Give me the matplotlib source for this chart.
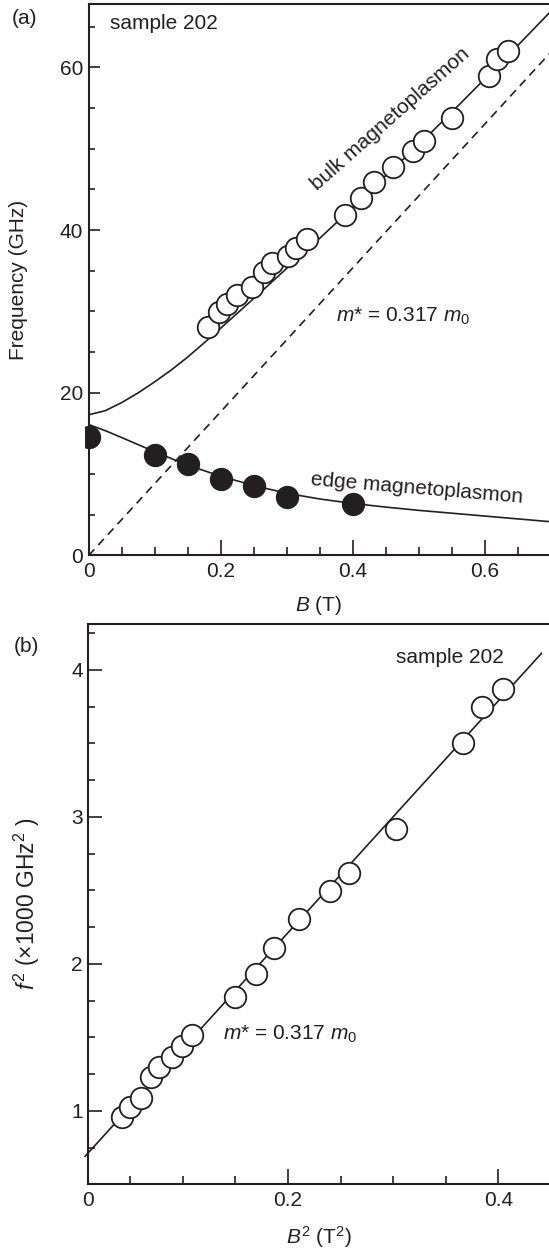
import matplotlib
matplotlib.use("Agg")
import matplotlib.pyplot as plt
from matplotlib.patches import Rectangle
from matplotlib.ticker import MultipleLocator, FixedLocator, FixedFormatter

plt.rcParams['font.family'] = ['Liberation Sans', 'DejaVu Sans']
plt.rcParams['font.size'] = 15
plt.rcParams['mathtext.fontset'] = 'custom'
plt.rcParams['mathtext.rm'] = 'Liberation Sans'
plt.rcParams['mathtext.it'] = 'Liberation Sans:italic'

INK = '#231f20'

# (a) measured resonances
B_bulk = [0.181, 0.197, 0.209, 0.225, 0.247, 0.266, 0.278, 0.302, 0.314, 0.330,
          0.388, 0.412, 0.432, 0.461, 0.492, 0.508, 0.550, 0.606, 0.619, 0.635]
f_bulk = [28.1, 29.9, 30.9, 32.0, 33.0, 34.9, 35.9, 36.8, 37.8, 38.9,
          41.9, 43.9, 45.9, 47.7, 49.7, 50.9, 53.8, 59.0, 61.0, 62.0]
B_edge = [0.0, 0.1, 0.15, 0.2, 0.25, 0.3, 0.4]
f_edge = [14.6, 12.4, 11.25, 9.4, 8.6, 7.2, 6.3]

# (a) fitted curves
B_bulk_fit = [0, 0.025, 0.05, 0.075, 0.1, 0.125, 0.15, 0.175, 0.2, 0.25, 0.3,
              0.35, 0.4, 0.45, 0.5, 0.55, 0.6, 0.65, 0.7]
f_bulk_fit = [17.3, 17.8, 18.8, 20.0, 21.35, 22.8, 24.4, 26.15, 27.95, 31.6, 35.3,
              39.0, 42.8, 46.7, 50.5, 54.5, 58.6, 62.7, 66.9]
B_edge_fit = [0, 0.025, 0.05, 0.1, 0.15, 0.2, 0.25, 0.3, 0.35, 0.4, 0.45, 0.5,
              0.55, 0.6, 0.65, 0.7]
f_edge_fit = [16.1, 15.35, 14.5, 12.75, 11.1, 9.75, 8.6, 7.65, 6.95, 6.4, 5.95,
              5.55, 5.2, 4.85, 4.5, 4.15]
B_cyc = [0, 0.698]
f_cyc = [0, 61.7]

# (b) f^2 vs B^2
B2 = [0.0426, 0.0500, 0.0600, 0.0700, 0.0776, 0.0900, 0.0993, 0.1086, 0.1492,
      0.1699, 0.1865, 0.2108, 0.2398, 0.2581, 0.3024, 0.3663, 0.3846, 0.4047]
F2 = [0.961, 1.025, 1.086, 1.229, 1.297, 1.369, 1.442, 1.517, 1.777,
      1.932, 2.111, 2.304, 2.499, 2.617, 2.916, 3.501, 3.746, 3.869]
B2_fit = [0.007, 0.441]
F2_fit = [0.69, 4.113]

W, H = 549, 1253
fig = plt.figure(figsize=(W / 100, H / 100), dpi=100)


def px_axes(l, t, r, b):
    return fig.add_axes([l / W, 1 - b / H, (r - l) / W, (b - t) / H])


def style(ax, xmaj, xmin, ymaj, ymin):
    for s in ['left', 'bottom', 'top']:
        ax.spines[s].set_linewidth(1.5)
        ax.spines[s].set_color(INK)
    ax.spines['right'].set_visible(False)
    ax.tick_params(which='both', direction='in', width=1.2, color=INK,
                   labelcolor=INK, top=False, right=False)
    ax.tick_params(axis='x', which='major', length=xmaj, pad=5)
    ax.tick_params(axis='x', which='minor', length=xmin)
    ax.tick_params(axis='y', which='major', length=ymaj, pad=4)
    ax.tick_params(axis='y', which='minor', length=ymin)


mk = dict(marker='o', ms=15.5, mew=1.3, mec=INK, ls='none', zorder=5)

# ---------- panel (a) ----------
ax1 = px_axes(88.7, 4, 549, 555.5)
ax1.set_xlim(0, 0.6973)
ax1.set_ylim(0, 67.8)
style(ax1, 11, 5.5, 8, 4.3)
ax1.xaxis.set_major_locator(FixedLocator([0, 0.2, 0.4, 0.6]))
ax1.xaxis.set_major_formatter(FixedFormatter(['0', '0.2', '0.4', '0.6']))
ax1.xaxis.set_minor_locator(MultipleLocator(0.05))
ax1.yaxis.set_major_locator(MultipleLocator(20))
ax1.yaxis.set_minor_locator(MultipleLocator(5))

ax1.plot(B_bulk_fit, f_bulk_fit, color=INK, lw=1.2, zorder=3)
ax1.plot(B_edge_fit, f_edge_fit, color=INK, lw=1.2, zorder=3)
ax1.plot(B_cyc, f_cyc, color=INK, lw=1.2, ls=(0, (5, 3.5)), zorder=3)
ax1.plot(B_bulk, f_bulk, mfc='white', **mk)
dots, = ax1.plot(B_edge, f_edge, mfc=INK, **mk)
dots.set_clip_path(Rectangle((-0.009, 0), 1.1, 1, transform=ax1.transAxes))

ax1.set_xlabel(r'$B$ (T)', labelpad=9, color=INK)
ax1.set_ylabel('Frequency (GHz)', color=INK)
ax1.yaxis.set_label_coords(-0.132, 0.5)

ax1.text(0.032, 64.7, 'sample 202', color=INK, va='baseline')
ax1.text(0.457, 53.6, 'bulk magnetoplasmon', color=INK, rotation=41.5,
         ha='center', va='center', rotation_mode='anchor')
ax1.text(0.497, 8.3, 'edge magnetoplasmon', color=INK, rotation=-4.8,
         ha='center', va='center', rotation_mode='anchor')
ax1.text(0.375, 28.7, r'$m$* = 0.317 $m_0$', color=INK, va='baseline')
fig.text(12 / W, 1 - 18 / H, '(a)', color=INK, va='center', ha='left')

# ---------- panel (b) ----------
ax2 = px_axes(88.3, 624, 549, 1184.3)
ax2.set_xlim(0.0101, 0.4482)
ax2.set_ylim(0.5, 4.313)
style(ax2, 11, 5.5, 10, 5.3)
ax2.xaxis.set_major_locator(FixedLocator([0.0101, 0.2, 0.4]))
ax2.xaxis.set_major_formatter(FixedFormatter(['0', '0.2', '0.4']))
ax2.xaxis.set_minor_locator(FixedLocator([0.05, 0.1, 0.15, 0.25, 0.3, 0.35]))
ax2.yaxis.set_major_locator(MultipleLocator(1))
ax2.yaxis.set_minor_locator(MultipleLocator(0.25))

ax2.plot(B2_fit, F2_fit, color=INK, lw=1.2, zorder=3, clip_on=False)
ax2.plot(B2, F2, mfc='white', **mk)

ax2.set_xlabel(r'$B^2$ (T$^2$)', labelpad=10, color=INK)
ax2.set_ylabel(r'$f^2$ ($\times$1000 GHz$^2$ )', color=INK, fontsize=16.5)
ax2.yaxis.set_label_coords(-0.1005, 0.5)

ax2.text(0.3023, 4.05, 'sample 202', color=INK, va='baseline')
ax2.text(0.1386, 1.483, r'$m$* = 0.317 $m_0$', color=INK, va='baseline')
fig.text(14 / W, 1 - 647 / H, '(b)', color=INK, va='center', ha='left')

fig.savefig('out.png', dpi=100)
